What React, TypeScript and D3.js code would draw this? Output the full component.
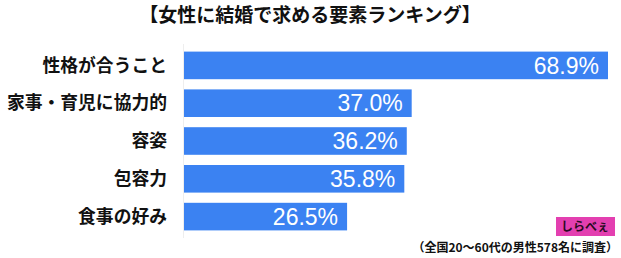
import React from "react";
import * as d3 from "d3";

const title = "【女性に結婚で求める要素ランキング】";
const categories = ["性格が合うこと", "家事・育児に協力的", "容姿", "包容力", "食事の好み"];
const values = [68.9, 37.0, 36.2, 35.8, 26.5];
const footnote = "（全国20〜60代の男性578名に調査）";
const logoText = "しらべぇ";

const W = 621;
const H = 258;
const JP = "'Noto Sans CJK JP', 'Noto Sans', sans-serif";
const NUM = "'Liberation Sans', Arial, sans-serif";

export default function App() {
  const x = d3.scaleLinear().domain([0, 68.9]).range([184, 608]);
  const y = d3.scaleBand<string>().domain(categories).range([46.5, 235.5]).paddingInner(0.27).paddingOuter(0.135);
  const bh = y.bandwidth();
  return (
    <svg width={W} height={H} style={{ position: "absolute", left: 0, top: 0, background: "#fff" }}>
      <text x={310} y={22} textAnchor="middle" fontFamily={JP} fontWeight={700} fontSize={19} fill="#111">{title}</text>
      <line x1={183.5} x2={183.5} y1={44} y2={238} stroke="#eeeeee" strokeWidth={1} />
      {categories.map((c, i) => {
        const yy = y(c) as number;
        return (
          <g key={c}>
            <rect x={x(0)} y={yy} width={x(values[i]) - x(0)} height={bh} fill="#3b82f2" />
            <text x={167} y={yy + bh / 2} dy="0.35em" textAnchor="end" fontFamily={JP} fontWeight={700} fontSize={17.8} fill="#111">{c}</text>
            <text x={x(values[i]) - 9} y={yy + bh / 2} dy="0.36em" textAnchor="end" fontFamily={NUM} fontSize={23} fill="#fff">{values[i].toFixed(1)}%</text>
          </g>
        );
      })}
      <rect x={556} y={217} width={59} height={19} fill="#e33fb0" />
      <text x={585} y={231} textAnchor="middle" fontFamily={JP} fontWeight={700} fontSize={12} fill="#2a0a22">{logoText}</text>
      <text x={618} y={252} textAnchor="end" fontFamily={JP} fontWeight={700} fontSize={12} fill="#111">{footnote}</text>
    </svg>
  );
}
